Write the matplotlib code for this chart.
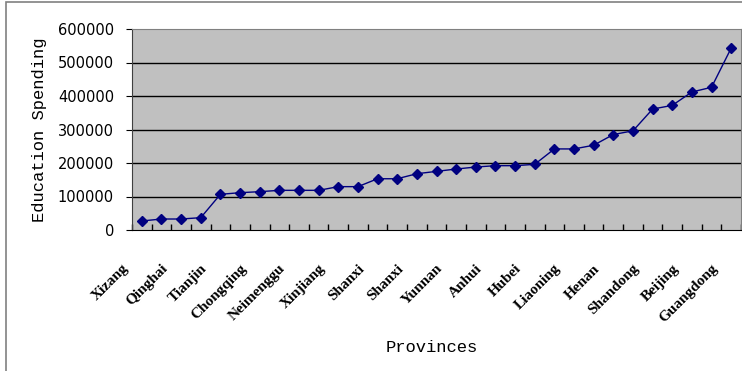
import matplotlib
matplotlib.use("Agg")
import matplotlib.pyplot as plt
from matplotlib.patches import Rectangle
from matplotlib.transforms import ScaledTranslation

# provinces sorted by education spending
provinces = ["Xizang", "Ningxia", "Qinghai", "Hainan", "Tianjin", "Gansu",
             "Chongqing", "Guizhou", "Neimenggu", "Jilin", "Xinjiang", "Jiangxi",
             "Shanxi", "Guangxi", "Shanxi", "Heilongjiang", "Yunnan", "Fujian",
             "Anhui", "Hunan", "Hubei", "Hebei", "Liaoning", "Sichuan", "Henan",
             "Shanghai", "Shandong", "Zhejiang", "Beijing", "Jiangsu", "Guangdong"]
spending = [26900, 32800, 32800, 36800, 106500, 111400, 114400, 118400, 118400,
            118400, 129400, 129400, 153000, 153000, 168000, 175000, 182000, 188000,
            192000, 192000, 196000, 242000, 242000, 253000, 285000, 296000, 361000,
            372000, 412000, 426000, 543000]
yticks = [0, 100000, 200000, 300000, 400000, 500000, 600000]

fig = plt.figure(figsize=(7.42, 3.71), dpi=100)
ax = fig.add_axes([132/742, 1 - 230/371, 609/742, 201/371])
ax.set_facecolor("#C0C0C0")

x = list(range(len(provinces)))
ax.plot(x, spending, color="#000080", lw=1, marker="D", markersize=5,
        markeredgecolor="#000080", markerfacecolor="#000080", zorder=3)

ax.set_xlim(-0.5, len(provinces) - 0.5)
ax.set_ylim(0, 600000)
ax.set_yticks(yticks)
ax.set_yticklabels([str(v) for v in yticks], fontsize=10.5, family="DejaVu Sans")
for v in yticks[1:-1]:
    ax.axhline(v, color="black", lw=1, zorder=1)

# ticks between categories, labels on every second one
ax.set_xticks([i - 0.5 for i in range(len(provinces) + 1)])
ax.set_xticklabels([])
ax.tick_params(axis="x", which="major", direction="in", length=4, width=1)
ax.set_xticks(x[::2], minor=True)
ax.set_xticklabels(provinces[::2], minor=True, rotation=45, ha="right",
                   va="top", rotation_mode="anchor", fontsize=11,
                   fontweight="bold", family="Liberation Serif")
ax.tick_params(axis="x", which="minor", length=0, pad=23)
shift = ScaledTranslation(-0.20, 0, fig.dpi_scale_trans)
for lbl in ax.get_xticklabels(minor=True):
    lbl.set_transform(lbl.get_transform() + shift)
ax.tick_params(axis="y", direction="out", length=4, pad=9)

ax.spines["left"].set_color("#404040")
ax.spines["bottom"].set_color("black")
ax.spines["top"].set_color("#808080")
ax.spines["right"].set_color("#808080")

ax.set_ylabel("Education Spending", fontsize=12.3, family="Liberation Mono", labelpad=8)
fig.text(432/742, 1 - 347/371, "Provinces", fontsize=12.3, family="Liberation Mono",
         ha="center", va="center")

# chart frame
fig.add_artist(Rectangle((6/742, -0.1), 1.2, 1 - 2/371 + 0.1, transform=fig.transFigure,
                         fill=False, edgecolor="#808080", lw=1.2))

fig.savefig("out.png", dpi=100)
